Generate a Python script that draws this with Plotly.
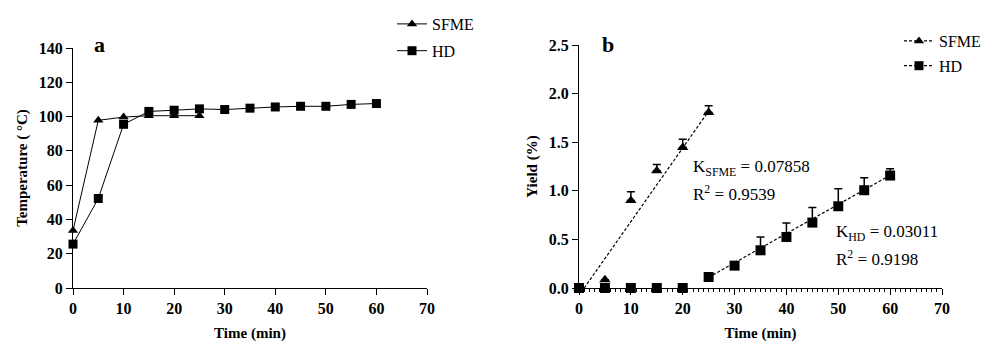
import plotly.graph_objects as go

# ---------------- data ----------------
# Panel a: temperature profiles
time_sfme_a = [0, 5, 10, 15, 20, 25]
temp_sfme = [33.5, 97.8, 99.7, 100.5, 100.5, 100.5]
time_hd_a = [0, 5, 10, 15, 20, 25, 30, 35, 40, 45, 50, 55, 60]
temp_hd = [25.6, 52.2, 95.5, 103.0, 103.7, 104.5, 104.1, 104.9, 105.6, 106.0, 106.0, 107.1, 107.6]

# Panel b: yield
time_sfme_b = [0, 5, 10, 15, 20, 25]
yield_sfme = [0.0, 0.086, 0.90, 1.205, 1.446, 1.806]
err_sfme = [0.0, 0.0, 0.09, 0.065, 0.085, 0.07]
time_hd_b = [0, 5, 10, 15, 20, 25, 30, 35, 40, 45, 50, 55, 60]
yield_hd = [0.0, 0.0, 0.0, 0.0, 0.0, 0.113, 0.23, 0.388, 0.525, 0.673, 0.841, 1.006, 1.157]
err_hd = [0.0, 0.0, 0.0, 0.0, 0.0, 0.0, 0.0, 0.137, 0.145, 0.155, 0.18, 0.127, 0.07]

# linear-fit lines
fit_sfme_x = [1.0, 25.0]
fit_sfme_y = [0.0, 1.82]
fit_hd_x = [25.0, 60.0]
fit_hd_y = [0.11, 1.16]

k_sfme_text = "K<sub>SFME</sub> = 0.07858"
r2_sfme_text = "R<sup>2</sup> = 0.9539"
k_hd_text = "K<sub>HD</sub> = 0.03011"
r2_hd_text = "R<sup>2</sup> = 0.9198"

# ---------------- figure ----------------
W, H = 989, 347
FONT = "Liberation Serif"
BLACK = "#000000"

fig = go.Figure()

# Panel a
fig.add_trace(go.Scatter(x=time_sfme_a, y=temp_sfme, mode="lines+markers", name="SFME",
                         line=dict(color=BLACK, width=1),
                         marker=dict(symbol="triangle-up", size=9, color=BLACK),
                         xaxis="x", yaxis="y", legend="legend", legendgroup="a1",
                         cliponaxis=False))
fig.add_trace(go.Scatter(x=time_hd_a, y=temp_hd, mode="lines+markers", name="HD",
                         line=dict(color=BLACK, width=1),
                         marker=dict(symbol="square", size=9, color=BLACK),
                         xaxis="x", yaxis="y", legend="legend", legendgroup="a2",
                         cliponaxis=False))

# Panel b fit lines
fig.add_trace(go.Scatter(x=fit_sfme_x, y=fit_sfme_y, mode="lines", showlegend=False,
                         line=dict(color=BLACK, width=1.2, dash="3px,2px"),
                         xaxis="x2", yaxis="y2", cliponaxis=False))
fig.add_trace(go.Scatter(x=fit_hd_x, y=fit_hd_y, mode="lines", showlegend=False,
                         line=dict(color=BLACK, width=1.2, dash="3px,2px"),
                         xaxis="x2", yaxis="y2", cliponaxis=False))
# Panel b markers with upward error bars
fig.add_trace(go.Scatter(x=time_sfme_b, y=yield_sfme, mode="markers", showlegend=False,
                         marker=dict(symbol="triangle-up", size=10, color=BLACK),
                         error_y=dict(type="data", array=err_sfme, arrayminus=[0]*len(err_sfme),
                                      symmetric=False, color=BLACK, thickness=1.5, width=4),
                         xaxis="x2", yaxis="y2", cliponaxis=False))
fig.add_trace(go.Scatter(x=time_hd_b, y=yield_hd, mode="markers", showlegend=False,
                         marker=dict(symbol="square", size=10, color=BLACK),
                         error_y=dict(type="data", array=err_hd, arrayminus=[0]*len(err_hd),
                                      symmetric=False, color=BLACK, thickness=1.5, width=4),
                         xaxis="x2", yaxis="y2", cliponaxis=False))
# Panel b legend entries
fig.add_trace(go.Scatter(x=[None], y=[None], mode="lines+markers", name="SFME",
                         line=dict(color=BLACK, width=1.2, dash="3px,2px"),
                         marker=dict(symbol="triangle-up", size=9, color=BLACK),
                         xaxis="x2", yaxis="y2", legend="legend2", legendgroup="b1"))
fig.add_trace(go.Scatter(x=[None], y=[None], mode="lines+markers", name="HD",
                         line=dict(color=BLACK, width=1.2, dash="3px,2px"),
                         marker=dict(symbol="square", size=9, color=BLACK),
                         xaxis="x2", yaxis="y2", legend="legend2", legendgroup="b2"))


def px_x(p):
    return p / W


def px_y(p):
    return 1 - p / H


tickfont = dict(family=FONT, size=16, color=BLACK, weight="bold")
titlefont = dict(family=FONT, size=15, color=BLACK, weight="bold")

common_x = dict(range=[0, 70], tickmode="linear", tick0=0, dtick=10, ticks="outside",
                ticklen=6, tickwidth=1.3, tickcolor=BLACK, showline=True, linecolor=BLACK,
                linewidth=1.3, showgrid=False, zeroline=False, tickfont=tickfont,
                automargin=False)
common_y = dict(ticks="outside", ticklen=6, tickwidth=1.3, tickcolor=BLACK, showline=True,
                linecolor=BLACK, linewidth=1.3, showgrid=False, zeroline=False,
                tickfont=tickfont, automargin=False)

fig.update_layout(
    width=W, height=H,
    margin=dict(l=0, r=0, t=0, b=0),
    paper_bgcolor="white", plot_bgcolor="white",
    font=dict(family=FONT, color=BLACK),
    xaxis=dict(common_x, domain=[px_x(73), px_x(427)], anchor="y",
               title=dict(text="Time (min)", font=titlefont, standoff=11)),
    yaxis=dict(common_y, domain=[px_y(288), px_y(48)], anchor="x", range=[0, 140],
               tickmode="linear", tick0=0, dtick=20,
               title=dict(text="Temperature ( °C)", font=titlefont, standoff=7)),
    xaxis2=dict(common_x, domain=[px_x(579), px_x(942)], anchor="y2",
                minor=dict(ticks="outside", ticklen=3, tickwidth=1, tickcolor=BLACK, dtick=1),
                title=dict(text="Time (min)", font=titlefont, standoff=11)),
    yaxis2=dict(common_y, domain=[px_y(288), px_y(45)], anchor="x2", range=[0, 2.5],
                tickmode="linear", tick0=0, dtick=0.5, tickformat=".1f",
                title=dict(text="Yield (%)", font=titlefont, standoff=7)),
    legend=dict(x=px_x(392), y=px_y(7), xanchor="left", yanchor="top",
                font=dict(family=FONT, size=16, color=BLACK), bgcolor="rgba(0,0,0,0)",
                tracegroupgap=3, itemwidth=30),
    legend2=dict(x=px_x(899), y=px_y(24), xanchor="left", yanchor="top",
                 font=dict(family=FONT, size=16, color=BLACK), bgcolor="rgba(0,0,0,0)",
                 tracegroupgap=1, itemwidth=30),
    annotations=[
        dict(text="a", x=px_x(99), y=px_y(44), xref="paper", yref="paper", showarrow=False,
             xanchor="center", yanchor="middle",
             font=dict(family=FONT, size=22, color=BLACK, weight="bold")),
        dict(text="b", x=px_x(608), y=px_y(44), xref="paper", yref="paper", showarrow=False,
             xanchor="center", yanchor="middle",
             font=dict(family=FONT, size=22, color=BLACK, weight="bold")),
        dict(text=k_sfme_text, x=21.6, y=1.235, xref="x2", yref="y2", xanchor="left",
             yanchor="middle", showarrow=False, font=dict(family=FONT, size=17, color=BLACK)),
        dict(text=r2_sfme_text, x=21.6, y=0.977, xref="x2", yref="y2", xanchor="left",
             yanchor="middle", showarrow=False, font=dict(family=FONT, size=17, color=BLACK)),
        dict(text=k_hd_text, x=49.2, y=0.566, xref="x2", yref="y2", xanchor="left",
             yanchor="middle", showarrow=False, font=dict(family=FONT, size=17, color=BLACK)),
        dict(text=r2_hd_text, x=49.2, y=0.309, xref="x2", yref="y2", xanchor="left",
             yanchor="middle", showarrow=False, font=dict(family=FONT, size=17, color=BLACK)),
    ],
)

fig.write_html("out.html", post_script="document.body.style.margin='0';",
               config={"displayModeBar": False})
